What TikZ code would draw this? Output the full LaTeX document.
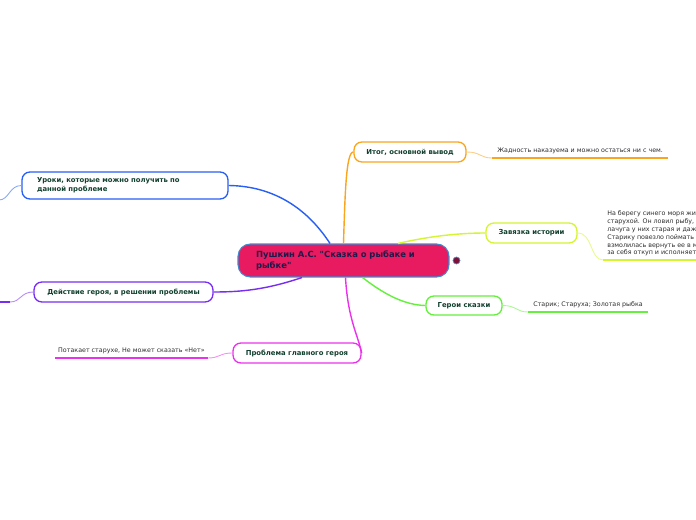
\documentclass[tikz,border=0pt]{standalone}
\usepackage{fontspec}
\setmainfont{DejaVu Sans}[Ligatures=TeXOff]
\usetikzlibrary{calc}

\definecolor{rootfill}{RGB}{232,26,96}
\definecolor{rootedge}{RGB}{60,140,210}
\definecolor{roottext}{RGB}{30,25,75}
\definecolor{topictext}{RGB}{18,64,46}
\definecolor{leaftext}{RGB}{45,45,45}
\definecolor{cItog}{RGB}{250,165,30}
\definecolor{cZav}{RGB}{212,245,50}
\definecolor{cGeroi}{RGB}{100,240,60}
\definecolor{cProbl}{RGB}{235,50,235}
\definecolor{cDeyst}{RGB}{120,45,240}
\definecolor{cUroki}{RGB}{40,95,245}

\newcommand{\leaffont}{\fontsize{3.6}{4.45}\selectfont}
\newcommand{\topicfont}{\fontsize{3.9}{5.1}\selectfont\bfseries}
\newcommand{\rootfont}{\fontsize{4.8}{6.2}\selectfont\bfseries}

\begin{document}
\begin{tikzpicture}[x=0.02cm, y=-0.02cm,
    topic/.style={draw=#1, fill=white, line width=0.75pt, rounded corners=4.5pt,
      font=\topicfont, text=topictext, inner sep=0pt, minimum height=0.4cm, align=center},
    leaf/.style={font=\leaffont, text=leaftext, inner xsep=0.1cm, inner ysep=0.07cm, align=left},
    branch/.style={draw=#1, line width=0.8pt},
    twig/.style={draw=#1!55, line width=0.5pt},
    uline/.style={draw=#1, line width=1.1pt},
  ]
  \useasboundingbox (0,0) rectangle (696,520);
  \clip (0,0) rectangle (696,520);

  % central topic
  \node[draw=rootedge, fill=rootfill, line width=0.6pt, rounded corners=7pt,
    font=\rootfont, text=roottext, align=left, text width=3.5cm,
    inner xsep=0.36cm, inner ysep=0pt, minimum height=0.66cm]
    (root) at (343.5,260.5) {Пушкин А.С. "Сказка о рыбаке и\\рыбке"};
  \node[circle, fill=rootfill!55!black, draw=rootedge, line width=0.4pt,
    minimum size=0.14cm, inner sep=0pt] (knob) at ($(root.east)+(7,0)$) {};

  % main topics
  \node[topic=cItog, minimum width=2.24cm] (itog) at (410,152) {Итог, основной вывод};
  \node[topic=cZav, minimum width=1.82cm] (zav) at (531.5,233) {Завязка истории};
  \node[topic=cGeroi, minimum width=1.52cm, minimum height=0.38cm] (geroi) at (464,305.5) {Герои сказки};
  \node[topic=cProbl, minimum width=2.56cm] (probl) at (297,353) {Проблема главного героя};
  \node[topic=cDeyst, minimum width=3.58cm] (deyst) at (123.5,292) {Действие героя, в решении проблемы};
  \node[topic=cUroki, minimum width=4.12cm, minimum height=0.54cm, align=left,
    text width=3.52cm, inner xsep=0.3cm] (uroki) at (125,185.5)
    {Уроки, которые можно получить по\\данной проблеме};

  % leaves
  \node[leaf, anchor=south west] (vyvod) at (492,158) {Жадность наказуема и можно остаться ни с чем.};
  \node[leaf, anchor=south west, inner xsep=0.08cm] (zavtext) at (603,260)
    {На берегу синего моря жи\\старухой. Он ловил рыбу,\\лачуга у них старая и даж\\Старику повезло поймать\\взмолилась вернуть ее в м\\за себя откуп и исполняет};
  \node[leaf, anchor=south west] (geroitext) at (528,312) {Старик; Старуха; Золотая рыбка};
  \node[leaf, anchor=south east, inner xsep=0.06cm] (probltext) at (208,358) {Потакает старухе, Не может сказать «Нет»};
  \coordinate (deystleaf) at (10,302);
  \coordinate (urokileaf) at (-1,200);

  % branches from the centre
  \draw[branch=cItog] (root.north) .. controls (345,195) and (346,152) .. (itog.west);
  \draw[branch=cUroki] ($(root.north)+(-13.5,0)$) .. controls (305,205) and (270,186) .. (uroki.east);
  \draw[branch=cZav] ($(root.north)+(54.5,0)$) .. controls (430,236) and (460,233) .. (zav.west);
  \draw[branch=cGeroi] ($(root.south)+(19,0)$) .. controls (385,295) and (405,305) .. (geroi.west);
  \draw[branch=cProbl] ($(root.south)+(2,0)$) .. controls (348,320) and (358,335) .. (probl.east);
  \draw[branch=cDeyst] ($(root.south)+(-41.5,0)$) .. controls (265,290) and (240,292) .. (deyst.east);

  % twigs to the leaves
  \draw[twig=cItog] (itog.east) .. controls +(14,0) and +(-12,0) .. (vyvod.south west);
  \draw[twig=cZav] (zav.east) .. controls +(15,0) and +(-13,0) .. (zavtext.south west);
  \draw[twig=cGeroi] (geroi.east) .. controls +(14,0) and +(-12,0) .. (geroitext.south west);
  \draw[twig=cProbl] (probl.west) .. controls +(-13,0) and +(12,0) .. (probltext.south east);
  \draw[twig=cDeyst] (deyst.west) .. controls +(-13,0) and +(11,0) .. (deystleaf);
  \draw[twig=cUroki] (uroki.west) .. controls +(-12,0) and +(10,0) .. (urokileaf);

  % underlines
  \draw[uline=cItog] (vyvod.south west) -- (vyvod.south east);
  \draw[uline=cZav] (zavtext.south west) -- (zavtext.south east);
  \draw[uline=cGeroi] (geroitext.south west) -- (geroitext.south east);
  \draw[uline=cProbl] (probltext.south east) -- (probltext.south west);
  \draw[uline=cDeyst] (deystleaf) -- ($(deystleaf)+(-12,0)$);
\end{tikzpicture}
\end{document}
